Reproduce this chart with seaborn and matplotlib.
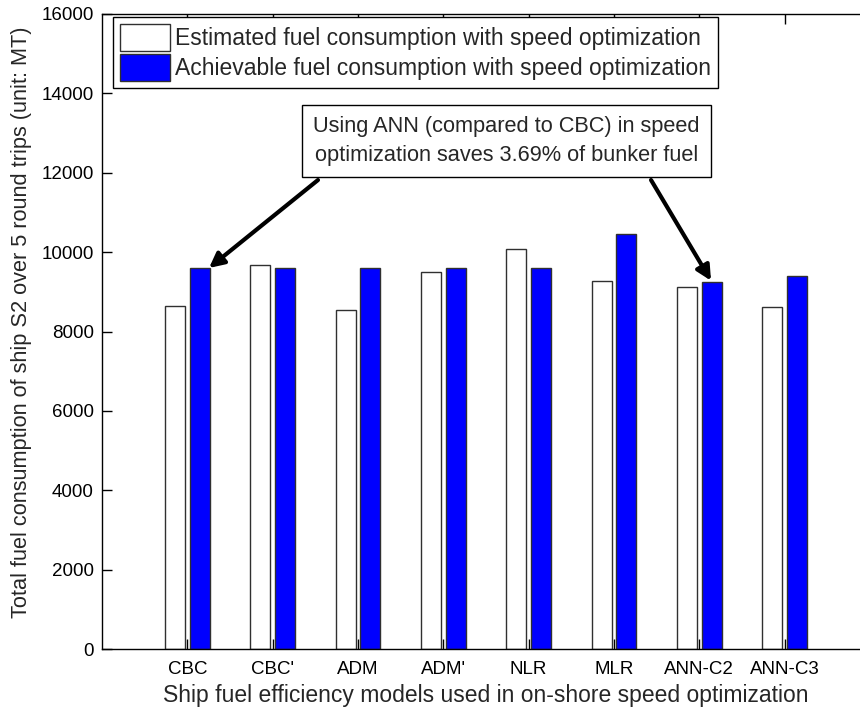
import matplotlib
matplotlib.use("Agg")
import matplotlib.pyplot as plt
import seaborn as sns
import pandas as pd
from matplotlib.patches import Patch

models = ['CBC', "CBC'", 'ADM', "ADM'", 'NLR', 'MLR', 'ANN-C2', 'ANN-C3']
estimated = [8650, 9670, 8530, 9500, 10070, 9280, 9130, 8620]
achievable = [9600, 9600, 9600, 9600, 9610, 10460, 9250, 9390]
series_names = ['Estimated fuel consumption with speed optimization',
                'Achievable fuel consumption with speed optimization']
y_ticks = [0, 2000, 4000, 6000, 8000, 10000, 12000, 14000, 16000]

df = pd.DataFrame({
    'model': models * 2,
    'value': estimated + achievable,
    'series': [series_names[0]] * len(models) + [series_names[1]] * len(models),
})

sns.set_style("white")
plt.rcParams['font.family'] = ['Liberation Sans', 'DejaVu Sans']

fig = plt.figure(figsize=(8.6, 7.13), dpi=100)
ax = fig.add_axes([102 / 860, 64 / 713, 768 / 860, 635 / 713])

sns.barplot(data=df, x='model', y='value', hue='series',
            palette=['white', '#0000ff'], width=0.58, gap=0.2,
            edgecolor='#303030', linewidth=1.0, ax=ax, legend=False,
            saturation=1)

ax.set_xlim(-1, 8)
ax.set_ylim(0, 16000)
ax.set_yticks(y_ticks)
ax.set_yticklabels([str(v) for v in y_ticks])

for s in ['left', 'top', 'bottom']:
    ax.spines[s].set_visible(True)
    ax.spines[s].set_color('black')
    ax.spines[s].set_linewidth(1.0)
ax.spines['right'].set_visible(False)

ax.tick_params(axis='both', direction='in', length=7, width=1, colors='black',
               labelsize=13.5)
ax.tick_params(axis='x', top=True, bottom=True, pad=9)
ax.tick_params(axis='y', left=True, right=False, pad=6)

ax.set_xlabel('Ship fuel efficiency models used in on-shore speed optimization',
              fontsize=16.5, labelpad=4)
ax.set_ylabel('Total fuel consumption of ship S2 over 5 round trips (unit: MT)',
              fontsize=15.7)
ax.yaxis.set_label_coords(-70 / 768, 0.515)

handles = [Patch(facecolor='white', edgecolor='#303030', linewidth=1.0),
           Patch(facecolor='#0000ff', edgecolor='#303030', linewidth=1.0)]
leg = ax.legend(handles, series_names, loc='upper left',
                bbox_to_anchor=(11 / 768, 632 / 635), borderaxespad=0,
                fontsize=16.5, frameon=True, fancybox=False, framealpha=1,
                edgecolor='black', handlelength=2.2, handleheight=1.45,
                handletextpad=0.2, borderpad=0.3, labelspacing=0.12)
leg.get_frame().set_linewidth(1.0)

ax.text(3.74, 12800,
        'Using ANN (compared to CBC) in speed\noptimization saves 3.69% of bunker fuel',
        ha='center', va='center', fontsize=15.7, linespacing=1.5,
        bbox=dict(boxstyle='square,pad=0.5', fc='white', ec='black', lw=1.0))

arrow = dict(arrowstyle='-|>', color='black', lw=3, mutation_scale=22,
             shrinkA=0, shrinkB=0)
ax.annotate('', xy=(0.254, 9600), xytext=(1.531, 11817), arrowprops=arrow)
ax.annotate('', xy=(6.137, 9280), xytext=(5.434, 11817), arrowprops=arrow)

fig.savefig('out.png', dpi=100)
